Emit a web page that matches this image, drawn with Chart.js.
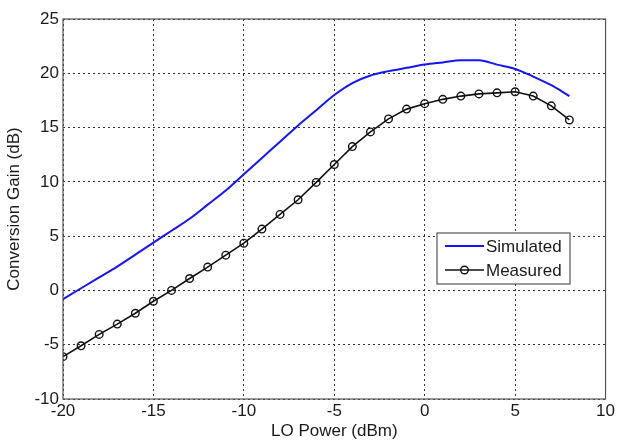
<!DOCTYPE html>
<html>
<head>
<meta charset="utf-8">
<script src="https://cdn.jsdelivr.net/npm/chart.js@4/dist/chart.umd.min.js"></script>
<style>
  html, body { margin: 0; padding: 0; background: #fff; }
  #wrap { width: 617px; height: 440px; position: relative; }
</style>
</head>
<body>
<div id="wrap"><canvas id="c" width="617" height="440"></canvas></div>
<script>
// ---- data ----
const loPower = [-20, -19, -18, -17, -16, -15, -14, -13, -12, -11, -10, -9, -8, -7, -6, -5, -4, -3, -2, -1, 0, 1, 2, 3, 4, 5, 6, 7, 8];
const simulatedGain = [-0.8, 0.2, 1.2, 2.2, 3.3, 4.4, 5.5, 6.6, 7.9, 9.2, 10.7, 12.2, 13.7, 15.2, 16.6, 18.0, 19.1, 19.8, 20.2, 20.5, 20.8, 21.0, 21.2, 21.2, 20.8, 20.4, 19.7, 18.9, 17.9];
const measuredGain = [-6.1, -5.1, -4.05, -3.1, -2.1, -1.0, 0.0, 1.1, 2.15, 3.25, 4.35, 5.65, 7.0, 8.35, 9.95, 11.6, 13.25, 14.6, 15.8, 16.7, 17.2, 17.6, 17.9, 18.1, 18.2, 18.3, 17.9, 17.0, 15.7];
const xTicks = [-20, -15, -10, -5, 0, 5, 10];
const yTicks = [-10, -5, 0, 5, 10, 15, 20, 25];
const seriesNames = ['Simulated', 'Measured'];
const xTitle = 'LO Power (dBm)';
const yTitle = 'Conversion Gain (dB)';

const FONT = "'Liberation Sans', Arial, sans-serif";
const TXT = '#1a1a1a';

const toPts = (xs, ys) => xs.map((x, i) => ({ x: x, y: ys[i] }));

const boxAndLegend = {
  id: 'boxAndLegend',
  afterDatasetsDraw(chart) {
    const { ctx, chartArea: a } = chart;
    ctx.save();
    // axes box
    ctx.strokeStyle = '#555';
    ctx.lineWidth = 1.2;
    ctx.setLineDash([]);
    ctx.strokeRect(a.left, a.top, a.right - a.left, a.bottom - a.top);
    // legend
    const lx = 437, ly = 233, lw = 133, lh = 51;
    ctx.fillStyle = '#fff';
    ctx.fillRect(lx, ly, lw, lh);
    ctx.strokeStyle = '#555';
    ctx.lineWidth = 1.2;
    ctx.strokeRect(lx, ly, lw, lh);
    const ds = chart.data.datasets;
    const rows = [ly + 13, ly + 37];
    ds.forEach((d, i) => {
      const y = rows[i];
      ctx.strokeStyle = d.borderColor;
      ctx.lineWidth = d.borderWidth;
      ctx.beginPath();
      ctx.moveTo(445, y);
      ctx.lineTo(484, y);
      ctx.stroke();
      if (d.pointRadius > 0) {
        ctx.beginPath();
        ctx.arc(464.5, y, d.pointRadius, 0, Math.PI * 2);
        ctx.lineWidth = d.pointBorderWidth;
        ctx.strokeStyle = d.pointBorderColor;
        ctx.stroke();
      }
      ctx.fillStyle = TXT;
      ctx.font = '17px ' + FONT;
      ctx.textBaseline = 'middle';
      ctx.textAlign = 'left';
      ctx.fillText(d.label, 486, y + 1);
    });
    ctx.restore();
  }
};

new Chart(document.getElementById('c'), {
  type: 'line',
  data: {
    datasets: [
      {
        label: seriesNames[0],
        data: toPts(loPower, simulatedGain),
        borderColor: '#1414ff',
        borderWidth: 2,
        pointRadius: 0,
        pointHoverRadius: 0,
        cubicInterpolationMode: 'monotone',
        fill: false
      },
      {
        label: seriesNames[1],
        data: toPts(loPower, measuredGain),
        borderColor: '#111',
        borderWidth: 1.6,
        pointRadius: 3.8,
        pointBorderWidth: 1.4,
        pointBorderColor: '#111',
        pointBackgroundColor: 'rgba(255,255,255,0)',
        tension: 0,
        fill: false
      }
    ]
  },
  options: {
    responsive: false,
    animation: false,
    devicePixelRatio: 1,
    layout: { padding: { left: 0, right: 9, top: 19, bottom: 0 } },
    plugins: { legend: { display: false }, tooltip: { enabled: false } },
    scales: {
      x: {
        type: 'linear',
        min: -20, max: 10,
        afterBuildTicks: s => { s.ticks = xTicks.map(v => ({ value: v })); },
        afterFit: s => { s.height = 41; },
        ticks: { color: TXT, font: { family: FONT, size: 17 }, padding: 2, maxRotation: 0, autoSkip: false },
        grid: { color: '#333', lineWidth: 1, drawTicks: false },
        border: { display: false, dash: [2, 3] },
        title: { display: true, text: xTitle, color: TXT, font: { family: FONT, size: 17, lineHeight: 1 }, padding: { top: 0, bottom: 0 } }
      },
      y: {
        type: 'linear',
        min: -10, max: 25,
        afterBuildTicks: s => { s.ticks = yTicks.map(v => ({ value: v })); },
        afterFit: s => { s.width = 63; },
        ticks: { color: TXT, font: { family: FONT, size: 17 }, padding: 4, autoSkip: false },
        grid: { color: '#333', lineWidth: 1, drawTicks: false },
        border: { display: false, dash: [2, 3] },
        title: { display: true, text: yTitle, color: TXT, font: { family: FONT, size: 17, lineHeight: 1 }, padding: { top: 6, bottom: 0 } }
      }
    }
  },
  plugins: [boxAndLegend]
});
</script>
</body>
</html>
